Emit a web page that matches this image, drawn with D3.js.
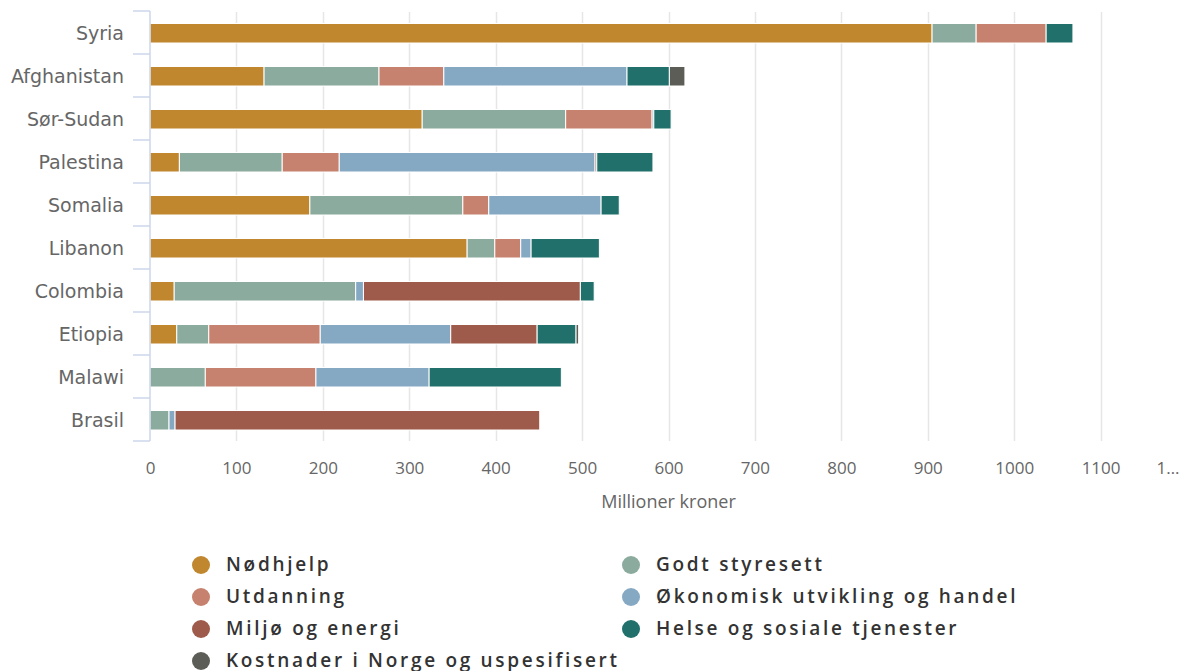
<!DOCTYPE html>
<html>
<head>
<meta charset="utf-8">
<script src="https://cdn.jsdelivr.net/npm/d3@7"></script>
<style>
  html, body { margin: 0; padding: 0; background: #fff; }
  svg { display: block; }
</style>
</head>
<body>
<svg id="chart" width="1180" height="671"></svg>
<script>
// ---- data ----
const categories = ["Syria", "Afghanistan", "Sør-Sudan", "Palestina", "Somalia", "Libanon", "Colombia", "Etiopia", "Malawi", "Brasil"];
const seriesNames = ["Nødhjelp", "Godt styresett", "Utdanning", "Økonomisk utvikling og handel", "Miljø og energi", "Helse og sosiale tjenester", "Kostnader i Norge og uspesifisert"];
const nodhjelp    = [905, 132, 315,  34, 185, 367,  28,  31,   0,   0];
const godtStyre   = [ 51, 133, 166, 119, 177,  32, 210,  37,  64,  22];
const utdanning   = [ 81,  75, 100,  66,  30,  30,   0, 129, 128,   0];
const okonomisk   = [  0, 212,   2, 296, 130,  12,   9, 151, 131,   7];
const miljo       = [  0,   0,   0,   2,   0,   0, 251, 100,   0, 422];
const helse       = [ 31,  49,  20,  65,  21,  79,  16,  45, 153,   0];
const kostnader   = [  0,  18,   0,   0,   0,   0,   0,   3,   0,   0];
const colors = ["#c0872f", "#8bab9e", "#c6826e", "#86a9c3", "#9e5b4b", "#21706b", "#5c5d57"];
const xTicks = [0, 100, 200, 300, 400, 500, 600, 700, 800, 900, 1000, 1100, 1200];
const xTickLabels = ["0", "100", "200", "300", "400", "500", "600", "700", "800", "900", "1000", "1100", "1…"];
const axisTitle = "Millioner kroner";

const seriesValues = [nodhjelp, godtStyre, utdanning, okonomisk, miljo, helse, kostnader];

// build table for stack
const table = categories.map((c, i) => {
  const row = { category: c };
  seriesNames.forEach((s, j) => row[s] = seriesValues[j][i]);
  return row;
});
const stacked = d3.stack().keys(seriesNames)(table);

const svg = d3.select("#chart");
const plotLeft = 150, plotRight = 1187, plotTop = 11, plotBottom = 441;

const x = d3.scaleLinear().domain([0, 1200]).range([plotLeft, plotRight]);
const y = d3.scaleBand().domain(categories).range([plotTop, plotBottom]).paddingInner(0).paddingOuter(0);

const font = "'Open Sans', 'DejaVu Sans', sans-serif";
const catFont = "'DejaVu Sans', 'Open Sans', sans-serif";

// gridlines
svg.append("g").selectAll("line")
  .data(xTicks.filter(d => d > 0))
  .join("line")
  .attr("x1", d => Math.round(x(d)) + 0.5)
  .attr("x2", d => Math.round(x(d)) + 0.5)
  .attr("y1", plotTop + 1)
  .attr("y2", plotBottom)
  .attr("stroke", "#e6e6e6")
  .attr("stroke-width", 1.5);

// bars
const barH = 19.5;
svg.append("g").selectAll("g")
  .data(stacked)
  .join("g")
  .attr("fill", (d, i) => colors[i])
  .selectAll("rect")
  .data(d => d.filter(p => p[1] - p[0] > 0))
  .join("rect")
  .attr("x", d => x(d[0]))
  .attr("width", d => x(d[1]) - x(d[0]))
  .attr("y", d => y(d.data.category) + 12.5)
  .attr("height", barH)
  .attr("stroke", "#ffffff")
  .attr("stroke-width", 1);

// y axis
const yAxis = svg.append("g");
yAxis.append("line")
  .attr("x1", plotLeft).attr("x2", plotLeft)
  .attr("y1", plotTop).attr("y2", plotBottom)
  .attr("stroke", "#ccd6eb").attr("stroke-width", 1.5);
const bounds = categories.map(c => y(c)).concat([plotBottom]);
yAxis.selectAll("line.tick")
  .data(bounds)
  .join("line")
  .attr("class", "tick")
  .attr("x1", 133).attr("x2", plotLeft)
  .attr("y1", d => d).attr("y2", d => d)
  .attr("stroke", "#ccd6eb").attr("stroke-width", 1.5);
yAxis.selectAll("text")
  .data(categories)
  .join("text")
  .attr("x", 124)
  .attr("y", d => y(d) + y.bandwidth() / 2 + 2)
  .attr("text-anchor", "end")
  .attr("dominant-baseline", "middle")
  .attr("font-family", catFont)
  .attr("font-size", 19)
  .attr("fill", "#666")
  .text(d => d);

// x axis
const xAxis = d3.axisBottom(x).tickValues(xTicks).tickSize(0).tickFormat((d, i) => xTickLabels[i]);
const gx = svg.append("g").attr("transform", `translate(0, ${plotBottom + 18})`).call(xAxis);
gx.select(".domain").remove();
gx.selectAll("text")
  .attr("font-family", font)
  .attr("font-size", 17)
  .attr("fill", "#666");
gx.selectAll(".tick").filter(d => d === 1200).select("text")
  .attr("text-anchor", "end")
  .attr("x", 1179 - x(1200));

svg.append("text")
  .attr("x", (plotLeft + plotRight) / 2)
  .attr("y", 503)
  .attr("text-anchor", "middle")
  .attr("dominant-baseline", "middle")
  .attr("font-family", font)
  .attr("font-size", 18)
  .attr("fill", "#666")
  .text(axisTitle);

// legend
const legend = svg.append("g");
const items = legend.selectAll("g")
  .data(seriesNames)
  .join("g")
  .attr("transform", (d, i) => `translate(${i % 2 === 0 ? 201 : 631}, ${565 + Math.floor(i / 2) * 32})`);
items.append("circle").attr("r", 9).attr("fill", (d, i) => colors[i]);
items.append("text")
  .attr("x", 25)
  .attr("y", 1)
  .attr("dominant-baseline", "middle")
  .attr("font-family", font)
  .attr("font-size", 19)
  .attr("font-weight", 600)
  .attr("letter-spacing", 2.7)
  .attr("fill", "#333")
  .text(d => d);
</script>
</body>
</html>
